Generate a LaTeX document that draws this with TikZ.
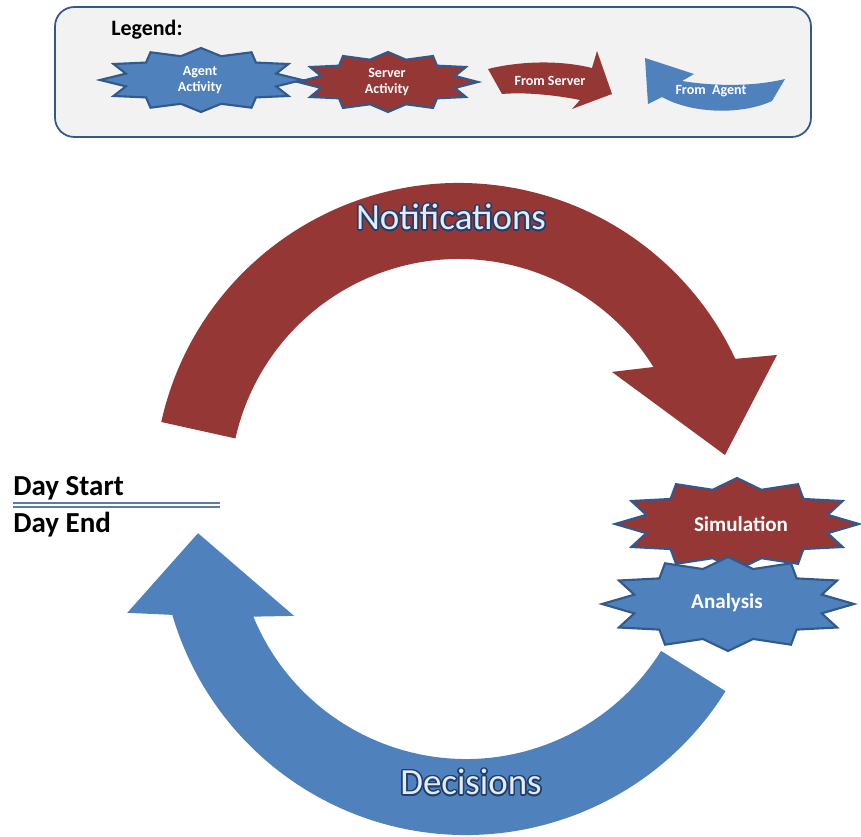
\documentclass[tikz,border=0pt]{standalone}
\usepackage{fontspec}
\setmainfont{Carlito}
\usepackage{contour}
\contourlength{0.9pt}
\definecolor{serverred}{HTML}{953735}
\definecolor{agentblue}{HTML}{4F81BD}
\definecolor{edgeblue}{HTML}{31598C}
\definecolor{keyfill}{HTML}{F2F2F2}
\definecolor{glowblue}{HTML}{1F3F6E}
\definecolor{paleblue}{HTML}{E3ECF6}
\definecolor{rulecol}{HTML}{5B7BA8}
% 12-point burst: centre x, centre y, half width, half height, fill
\newcommand{\burst}[5]{%
  \draw[burstline, fill=#5] plot[samples=25, domain=0:24, variable=\k]
    ({#1+#3*(0.885+0.115*cos(\k*180))*cos(\k*15)}, {#2+#4*(0.885+0.115*cos(\k*180))*sin(\k*15)}) -- cycle;}
\begin{document}
\begin{tikzpicture}[x=0.02cm, y=0.02cm,
  burstline/.style={draw=edgeblue, line width=1.2pt, line join=miter},
  keytext/.style={text=white, font=\bfseries\fontsize{8}{9.6}\selectfont, align=center},
  startext/.style={text=white, font=\bfseries\fontsize{12}{14}\selectfont},
  bigtext/.style={text=paleblue, font=\fontsize{21}{25}\selectfont},
  daytext/.style={font=\bfseries\fontsize{16.5}{19}\selectfont, anchor=base west, inner sep=0pt}]

  \useasboundingbox (0,0) rectangle (861,-837);

  % legend
  \draw[draw=edgeblue, line width=1pt, fill=keyfill, rounded corners=11pt] (55,-7) rectangle (811,-137);
  \node[font=\bfseries\fontsize{12.5}{14}\selectfont, anchor=base west, inner sep=0pt] (legend) at (111,-36) {Legend:};
  \burst{201}{-80}{101}{32}{agentblue}
  \node[keytext] (agentkey) at (200,-80) {Agent\\Activity};
  \burst{388}{-82}{90}{30}{serverred}
  \node[keytext] (serverkey) at (387,-82) {Server\\Activity};
  \fill[serverred] (488,-69) .. controls (520,-61) and (560,-60) .. (592,-68) -- (597,-51) -- (612,-94) -- (572,-109) -- (580,-100) .. controls (555,-95) and (525,-92) .. (502,-94) -- cycle;
  \node[keytext] (fromserver) at (550,-81) {From Server};
  \fill[agentblue] (645,-58) -- (694,-74) -- (682,-81) .. controls (712,-86) and (752,-87) .. (785,-79) -- (772,-101) .. controls (742,-115) and (692,-114) .. (662,-97) -- (648,-104) -- cycle;
  \node[keytext] (fromagent) at (711,-91) {From\ \ Agent};

  % notifications arc
  \begin{scope}[shift={(459,-488)}]
    \fill[serverred] (167.5:305) arc[start angle=167.5, end angle=25.05, radius=305] -- (22.7:344.7) -- (7.07:268) -- (37.2:192) -- (31.9:229) arc[start angle=31.9, end angle=167.5, radius=229] -- cycle;
  \end{scope}
  % decisions arc
  \begin{scope}[shift={(466,-529)}]
    \fill[agentblue] (-32:306) arc[start angle=-32, end angle=-163.7, radius=306] -- (193.9:349) -- (180.9:268) -- (206.8:192.7) -- (202.4:230) arc[start angle=202.4, end angle=328, radius=230] -- cycle;
  \end{scope}
  \node[bigtext] (notif) at (451,-218) {\contour{glowblue}{Notifications}};
  \node[bigtext] (decis) at (471,-783) {\contour{glowblue}{Decisions}};

  % day boundary
  \node[daytext] (daystart) at (13,-495) {Day Start};
  \node[daytext] (dayend) at (13,-532) {Day End};
  \draw[rulecol, double=white, double distance=1.5pt, line width=0.8pt] (13,-505) -- (220,-505);

  % server and agent work
  \burst{737}{-524}{122}{46}{serverred}
  \node[startext] (simul) at (741,-524) {Simulation};
  \burst{728}{-604}{126}{47}{agentblue}
  \node[startext] (analys) at (727,-603) {Analysis};
\end{tikzpicture}
\end{document}
